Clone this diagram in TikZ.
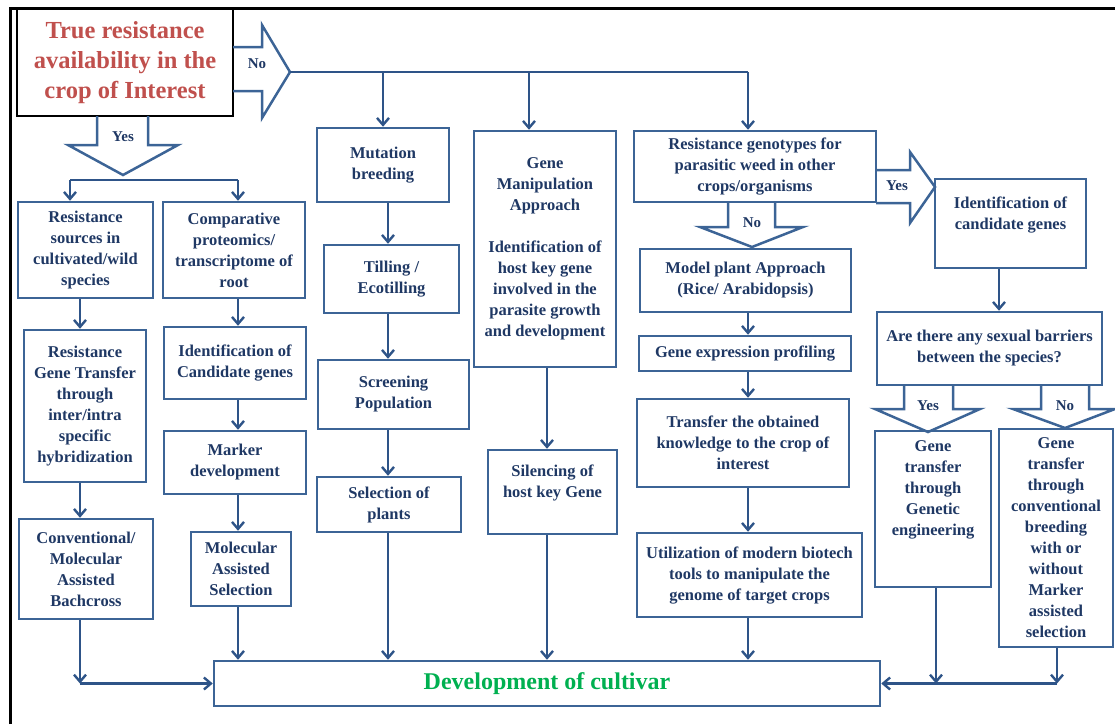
\documentclass[tikz,border=0pt]{standalone}
\usepackage{fontspec}
\setmainfont{Liberation Serif}
\usetikzlibrary{arrows.meta}
\definecolor{boxblue}{HTML}{3C6496}
\definecolor{arrblue}{HTML}{2E5488}
\definecolor{txtblue}{HTML}{1F3864}
\definecolor{titlered}{HTML}{C0504D}
\definecolor{cultgreen}{HTML}{00B050}
\begin{document}
\begin{tikzpicture}[x=1pt,y=-1pt,
    bx/.style={draw=boxblue, line width=2.5pt, text=txtblue, align=center, inner sep=1pt,
      font=\bfseries\fontsize{16.5}{21}\selectfont},
    arr/.style={draw=arrblue, line width=2.4pt, -{Straight Barb[length=7pt,width=12pt]}},
    link/.style={draw=arrblue, line width=2.4pt},
    blk/.style={draw=boxblue, line width=2.5pt, line join=miter},
    lbl/.style={text=txtblue, inner sep=0pt, font=\bfseries\fontsize{15}{18}\selectfont}]
  \useasboundingbox (0,0) rectangle (1115,724);
  \draw[black, line width=3pt] (10,724) -- (10,8) -- (1115,8);
  % boxes
  \node[bx, draw=black, line width=1.8pt, text=titlered, minimum width=216, minimum height=107,
    font=\bfseries\fontsize{24.5}{30}\selectfont] (crop) at (125,62.5)
    {True resistance\\availability in the\\crop of Interest};
  \node[bx, minimum width=135, minimum height=96] (src) at (85.5,250)
    {Resistance\\sources in\\cultivated/wild\\species};
  \node[bx, minimum width=142, minimum height=96] (prot) at (234,250)
    {Comparative\\proteomics/\\transcriptome of\\root};
  \node[bx, minimum width=122, minimum height=152] (hyb) at (85,406)
    {Resistance\\Gene Transfer\\through\\inter/intra\\specific\\hybridization};
  \node[bx, minimum width=134, minimum height=100] (bcross) at (86,569)
    {Conventional/\\Molecular\\Assisted\\Bachcross};
  \node[bx, minimum width=142, minimum height=72] (candA) at (235,363)
    {Identification of\\Candidate genes};
  \node[bx, minimum width=142, minimum height=63] (marker) at (235,462.5)
    {Marker\\development};
  \node[bx, minimum width=100, minimum height=74] (mas) at (241,569)
    {Molecular\\Assisted\\Selection};
  \node[bx, minimum width=132, minimum height=74] (mut) at (383,165)
    {Mutation\\breeding};
  \node[bx, minimum width=135, minimum height=68] (till) at (391.5,279)
    {Tilling /\\Ecotilling};
  \node[bx, minimum width=151, minimum height=69] (screen) at (393.5,394.5)
    {Screening\\Population};
  \node[bx, minimum width=144, minimum height=55] (select) at (389,504.5)
    {Selection of\\plants};
  \node[bx, minimum width=142, minimum height=236] (manip) at (545,249)
    {Gene\\Manipulation\\Approach\\[21pt]Identification of\\host key gene\\involved in the\\parasite growth\\and development};
  \node[bx, minimum width=129, minimum height=84] (silence) at (552.5,492)
    {Silencing of\\host key Gene\\~};
  \node[bx, minimum width=242, minimum height=71] (geno) at (755,166.5)
    {Resistance genotypes for\\parasitic weed in other\\crops/organisms};
  \node[bx, minimum width=151, minimum height=89] (candB) at (1010.5,223.5)
    {Identification of\\candidate genes\\~};
  \node[bx, minimum width=211, minimum height=63] (model) at (745.5,280.5)
    {Model plant Approach\\(Rice/ Arabidopsis)};
  \node[bx, minimum width=212, minimum height=35] (expr) at (745,353.5)
    {Gene expression profiling};
  \node[bx, minimum width=212, minimum height=88] (know) at (743,443)
    {Transfer the obtained\\knowledge to the crop of\\interest};
  \node[bx, minimum width=225, minimum height=84] (biotech) at (749.5,575)
    {Utilization of modern biotech\\tools to manipulate the\\genome of target crops};
  \node[bx, minimum width=225, minimum height=73] (barrier) at (989.5,348.5)
    {Are there any sexual barriers\\between the species?};
  \node[bx, minimum width=116, minimum height=156] (genet) at (933,509)
    {Gene\\transfer\\through\\Genetic\\engineering\\~\\~};
  \node[bx, minimum width=114, minimum height=218] (conv) at (1056,538)
    {Gene\\transfer\\through\\conventional\\breeding\\with or\\without\\Marker\\assisted\\selection};
  \node[bx, minimum width=666, minimum height=45, text=cultgreen,
    font=\bfseries\fontsize{24}{28}\selectfont] (cultivar) at (547,683.5)
    {Development of cultivar};
  % block arrows
  \draw[blk] (233,47) -- (262,47) -- (262,25) -- (290,72) -- (262,118) -- (262,91) -- (233,91);
  \node[lbl] (noA) at (257,64) {No};
  \draw[blk] (97,116) -- (97,145) -- (68,145) -- (123,175) -- (178,145) -- (148,145) -- (148,116);
  \node[lbl] (yesA) at (123,137) {Yes};
  \draw[blk] (728,202) -- (728,227) -- (700,227) -- (752,247) -- (803,227) -- (775,227) -- (775,202);
  \node[lbl] (noB) at (752,223) {No};
  \draw[blk] (876,170) -- (910,170) -- (910,152) -- (935,187) -- (910,223) -- (910,203) -- (876,203);
  \node[lbl] (yesB) at (897,186) {Yes};
  \draw[blk] (904,385) -- (904,409) -- (875,409) -- (928,432) -- (980,409) -- (953,409) -- (953,385);
  \node[lbl] (yesC) at (928,406) {Yes};
  \draw[blk] (1041,385) -- (1041,409) -- (1013,409) -- (1065,428) -- (1115,409) -- (1089,409) -- (1089,385);
  \node[lbl] (noC) at (1065,406) {No};
  % columns
  \coordinate (notip) at (290,72);
  \coordinate (yesfork) at (123,180);
  \coordinate (cola) at (80,0);
  \coordinate (colb) at (238,0);
  \coordinate (colm) at (388,0);
  \coordinate (colg) at (547,0);
  \coordinate (colr) at (748,0);
  \coordinate (colc) at (999,0);
  \coordinate (cole) at (936,0);
  \coordinate (colv) at (1057,0);
  % connectors
  \draw[link] (notip) -- (notip -| colr);
  \draw[arr] (notip -| mut.north) -- (mut.north);
  \draw[arr] (notip -| 529,0) -- (manip.north -| 529,0);
  \draw[arr] (notip -| colr) -- (geno.north -| colr);
  \draw[link] (yesfork -| 70,0) -- (yesfork -| colb);
  \draw[arr] (yesfork -| 70,0) -- (src.north -| 70,0);
  \draw[arr] (yesfork -| colb) -- (prot.north -| colb);
  \draw[arr] (src.south -| cola) -- (hyb.north -| cola);
  \draw[arr] (hyb.south -| cola) -- (bcross.north -| cola);
  \draw[arr] (bcross.south -| cola) -- (cultivar.west -| cola);
  \draw[arr] (cultivar.west -| cola) -- (cultivar.west);
  \draw[arr] (prot.south -| colb) -- (candA.north -| colb);
  \draw[arr] (candA.south -| colb) -- (marker.north -| colb);
  \draw[arr] (marker.south -| colb) -- (mas.north -| colb);
  \draw[arr] (mas.south -| colb) -- (cultivar.north -| colb);
  \draw[arr] (mut.south -| colm) -- (till.north -| colm);
  \draw[arr] (till.south -| colm) -- (screen.north -| colm);
  \draw[arr] (screen.south -| colm) -- (select.north -| colm);
  \draw[arr] (select.south -| colm) -- (cultivar.north -| colm);
  \draw[arr] (manip.south -| colg) -- (silence.north -| colg);
  \draw[arr] (silence.south -| colg) -- (cultivar.north -| colg);
  \draw[arr] (model.south -| colr) -- (expr.north -| colr);
  \draw[arr] (expr.south -| colr) -- (know.north -| colr);
  \draw[arr] (know.south -| colr) -- (biotech.north -| colr);
  \draw[arr] (biotech.south -| colr) -- (cultivar.north -| colr);
  \draw[arr] (candB.south -| colc) -- (barrier.north -| colc);
  \draw[arr] (genet.south -| cole) -- (cultivar.east -| cole);
  \draw[arr] (conv.south -| colv) -- (cultivar.east -| colv);
  \draw[arr] (cultivar.east -| colv) -- (cultivar.east);
\end{tikzpicture}
\end{document}
